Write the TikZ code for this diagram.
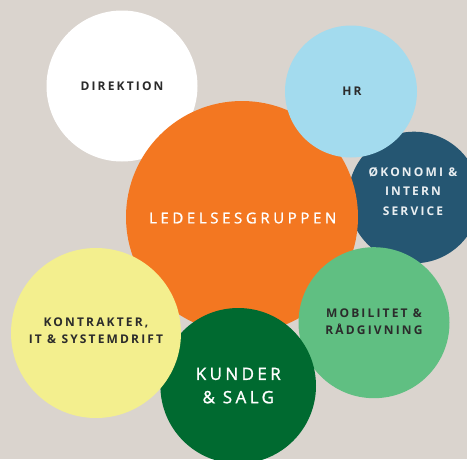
\documentclass[tikz,border=0pt]{standalone}
\usepackage{fontspec}
\setmainfont{Open Sans}
\newfontfamily\lblbold[LetterSpace=18]{Open Sans Bold}
\newfontfamily\lblreg[LetterSpace=24,FakeBold=1.3]{Open Sans}
\newfontfamily\lblkun[LetterSpace=20,FakeBold=1.3]{Open Sans}
\definecolor{bgc}{HTML}{DAD4CE}
\definecolor{orangec}{HTML}{F37721}
\definecolor{hrc}{HTML}{A3DBEE}
\definecolor{okoc}{HTML}{255672}
\definecolor{mobc}{HTML}{60BF82}
\definecolor{yelc}{HTML}{F3EF8E}
\definecolor{kunc}{HTML}{006A30}
\definecolor{darktxt}{HTML}{2B2B2B}
\definecolor{lighttxt}{HTML}{E9EEF1}
\tikzset{
  bubble/.style={circle, inner sep=0pt, minimum size=#1},
  darklbl/.style={text=darktxt, align=center, font=\lblbold\fontsize{12}{16.5}\selectfont},
  lightlbl/.style={text=lighttxt, align=center, font=\lblbold\fontsize{12}{19.5}\selectfont},
}
\begin{document}
\begin{tikzpicture}[x=1pt,y=-1pt]
\fill[bgc] (0,0) rectangle (467,459);
\useasboundingbox (0,0) rectangle (467,459);
\begin{scope}
\clip (0,0) rectangle (467,459);
\node[bubble=151pt, fill=white] (dir) at (122,86) {};
\node[bubble=131.6pt, fill=okoc] (oko) at (414,197.5) {};
\node[bubble=232pt, fill=orangec] (led) at (242,217) {};
\node[bubble=132pt, fill=hrc] (hr) at (351,91.5) {};
\node[bubble=151pt, fill=mobc] (mob) at (374,322.7) {};
\node[bubble=155.6pt, fill=kunc] (kun) at (238.2,385.8) {};
\node[bubble=170pt, fill=yelc] (kon) at (96,333) {};
\end{scope}
\node[darklbl] (tdir) at (122,86) {DIREKTION};
\node[darklbl] (thr) at (352,91) {HR};
\node[lightlbl] (toko) at (413,191.5) {ØKONOMI \&\\INTERN\\SERVICE};
\node[text=white, font=\lblreg\fontsize{15}{18}\selectfont] (tled) at (242.7,218) {LEDELSESGRUPPEN};
\node[darklbl] (tkon) at (96,330.7) {KONTRAKTER,\\IT \& SYSTEMDRIFT};
\node[darklbl] (tmob) at (374,321.7) {MOBILITET \&\\RÅDGIVNING};
\node[text=white, align=center, font=\lblkun\fontsize{17}{23.3}\selectfont] (tkun) at (238.3,385.6) {KUNDER\\\& SALG};
\end{tikzpicture}
\end{document}
